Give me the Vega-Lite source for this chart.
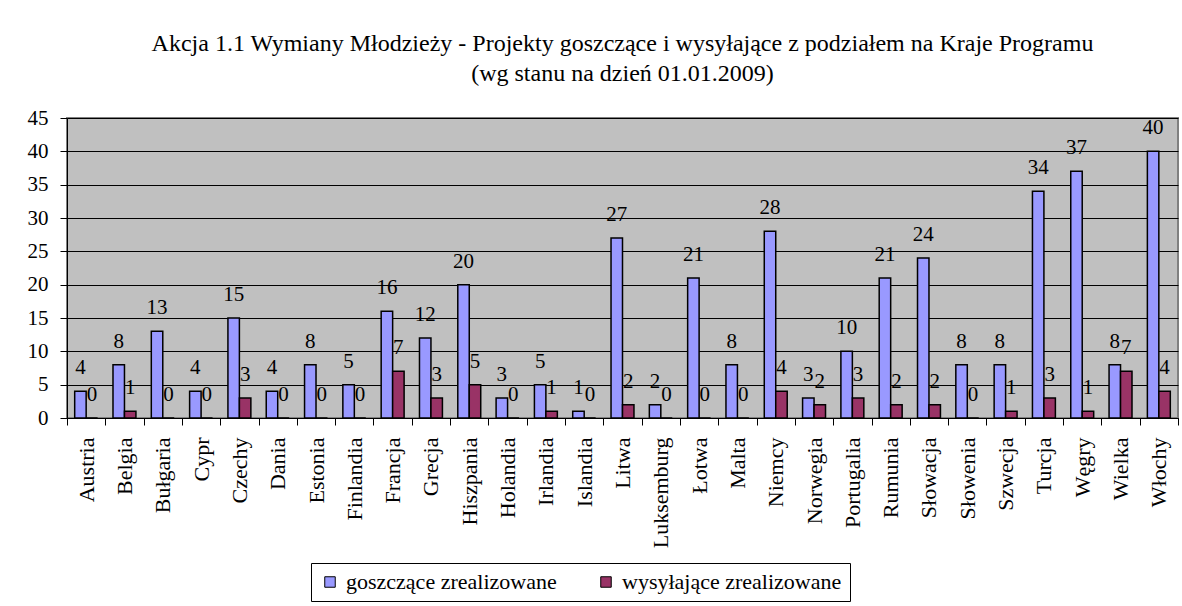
{
  "$schema": "https://vega.github.io/schema/vega-lite/v6.json",
  "width": 1111,
  "height": 300,
  "padding": {"left": 27, "top": 32, "right": 4, "bottom": 2},
  "background": "white",
  "title": {
    "text": ["Akcja 1.1 Wymiany Młodzieży - Projekty goszczące i wysyłające z podziałem na Kraje Programu", "(wg stanu na dzień 01.01.2009)"],
    "font": "Liberation Serif",
    "fontSize": 24,
    "fontWeight": "normal",
    "color": "black",
    "lineHeight": 30,
    "anchor": "middle",
    "offset": 21
  },
  "data": {
    "values": [
      {"kraj": "Austria", "goszczące zrealizowane": 4, "wysyłające zrealizowane": 0},
      {"kraj": "Belgia", "goszczące zrealizowane": 8, "wysyłające zrealizowane": 1},
      {"kraj": "Bułgaria", "goszczące zrealizowane": 13, "wysyłające zrealizowane": 0},
      {"kraj": "Cypr", "goszczące zrealizowane": 4, "wysyłające zrealizowane": 0},
      {"kraj": "Czechy", "goszczące zrealizowane": 15, "wysyłające zrealizowane": 3},
      {"kraj": "Dania", "goszczące zrealizowane": 4, "wysyłające zrealizowane": 0},
      {"kraj": "Estonia", "goszczące zrealizowane": 8, "wysyłające zrealizowane": 0},
      {"kraj": "Finlandia", "goszczące zrealizowane": 5, "wysyłające zrealizowane": 0},
      {"kraj": "Francja", "goszczące zrealizowane": 16, "wysyłające zrealizowane": 7},
      {"kraj": "Grecja", "goszczące zrealizowane": 12, "wysyłające zrealizowane": 3},
      {"kraj": "Hiszpania", "goszczące zrealizowane": 20, "wysyłające zrealizowane": 5},
      {"kraj": "Holandia", "goszczące zrealizowane": 3, "wysyłające zrealizowane": 0},
      {"kraj": "Irlandia", "goszczące zrealizowane": 5, "wysyłające zrealizowane": 1},
      {"kraj": "Islandia", "goszczące zrealizowane": 1, "wysyłające zrealizowane": 0},
      {"kraj": "Litwa", "goszczące zrealizowane": 27, "wysyłające zrealizowane": 2},
      {"kraj": "Luksemburg", "goszczące zrealizowane": 2, "wysyłające zrealizowane": 0},
      {"kraj": "Łotwa", "goszczące zrealizowane": 21, "wysyłające zrealizowane": 0},
      {"kraj": "Malta", "goszczące zrealizowane": 8, "wysyłające zrealizowane": 0},
      {"kraj": "Niemcy", "goszczące zrealizowane": 28, "wysyłające zrealizowane": 4},
      {"kraj": "Norwegia", "goszczące zrealizowane": 3, "wysyłające zrealizowane": 2},
      {"kraj": "Portugalia", "goszczące zrealizowane": 10, "wysyłające zrealizowane": 3},
      {"kraj": "Rumunia", "goszczące zrealizowane": 21, "wysyłające zrealizowane": 2},
      {"kraj": "Słowacja", "goszczące zrealizowane": 24, "wysyłające zrealizowane": 2},
      {"kraj": "Słowenia", "goszczące zrealizowane": 8, "wysyłające zrealizowane": 0},
      {"kraj": "Szwecja", "goszczące zrealizowane": 8, "wysyłające zrealizowane": 1},
      {"kraj": "Turcja", "goszczące zrealizowane": 34, "wysyłające zrealizowane": 3},
      {"kraj": "Węgry", "goszczące zrealizowane": 37, "wysyłające zrealizowane": 1},
      {"kraj": "Wielka", "goszczące zrealizowane": 8, "wysyłające zrealizowane": 7},
      {"kraj": "Włochy", "goszczące zrealizowane": 40, "wysyłające zrealizowane": 4}
    ]
  },
  "transform": [
    {"fold": ["goszczące zrealizowane", "wysyłające zrealizowane"], "as": ["seria", "wartosc"]}
  ],
  "encoding": {
    "x": {
      "field": "kraj",
      "type": "nominal",
      "sort": null,
      "scale": {"paddingInner": 0, "paddingOuter": 0},
      "axis": {
        "title": null,
        "labelAngle": -90,
        "labelFont": "Liberation Serif",
        "labelFontSize": 22,
        "labelColor": "black",
        "labelPadding": 12,
        "tickBand": "extent",
        "tickSize": 7,
        "tickColor": "black",
        "domainColor": "black",
        "grid": false
      }
    },
    "xOffset": {
      "field": "seria",
      "type": "nominal",
      "sort": ["goszczące zrealizowane", "wysyłające zrealizowane"],
      "scale": {"paddingInner": 0, "paddingOuter": 0.67}
    },
    "y": {
      "field": "wartosc",
      "type": "quantitative",
      "scale": {"domain": [0, 45], "nice": false},
      "axis": {
        "title": null,
        "values": [0, 5, 10, 15, 20, 25, 30, 35, 40, 45],
        "labelFont": "Liberation Serif",
        "labelFontSize": 21,
        "labelColor": "black",
        "labelPadding": 12,
        "tickSize": 7,
        "tickColor": "black",
        "domainColor": "black",
        "gridColor": "black",
        "gridOpacity": 1
      }
    }
  },
  "layer": [
    {
      "mark": {"type": "bar", "stroke": "black", "strokeWidth": 1.5},
      "encoding": {
        "color": {
          "field": "seria",
          "type": "nominal",
          "scale": {"domain": ["goszczące zrealizowane", "wysyłające zrealizowane"], "range": ["#9999FF", "#993366"]},
          "legend": {
            "title": null,
            "orient": "none",
            "legendX": 244,
            "legendY": 445,
            "direction": "horizontal",
            "strokeColor": "black",
            "fillColor": "white",
            "padding": 8,
            "labelFont": "Liberation Serif",
            "labelFontSize": 22,
            "labelColor": "black",
            "labelLimit": 0,
            "symbolType": "square",
            "symbolSize": 110,
            "symbolStrokeColor": "black",
            "symbolStrokeWidth": 1,
            "symbolOpacity": 1,
            "columnPadding": 38,
            "labelOffset": 5
          }
        }
      }
    },
    {
      "mark": {"type": "text", "font": "Liberation Serif", "fontSize": 21, "color": "black", "baseline": "alphabetic", "dy": -17},
      "encoding": {
        "text": {"field": "wartosc", "type": "quantitative"}
      }
    }
  ],
  "config": {
    "view": {"fill": "#C0C0C0", "stroke": "#808080", "strokeWidth": 2}
  }
}
